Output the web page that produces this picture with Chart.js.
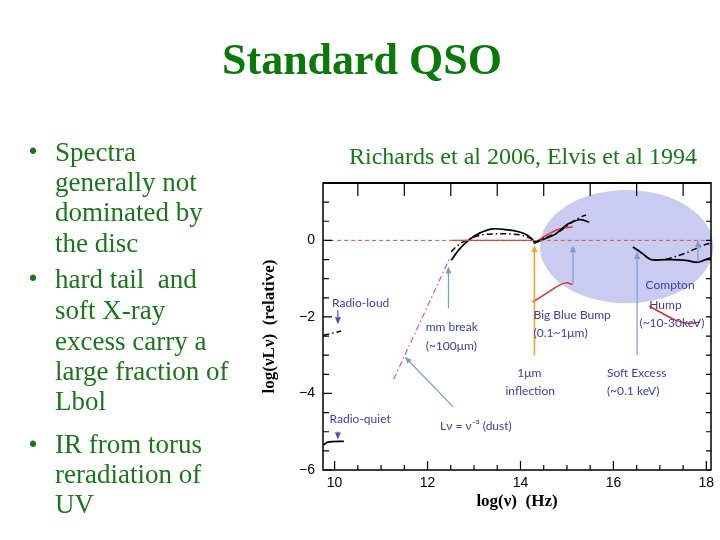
<!DOCTYPE html>
<html><head><meta charset="utf-8">
<script src="https://cdn.jsdelivr.net/npm/chart.js@4.4.0/dist/chart.umd.min.js"></script>
<style>
html,body{margin:0;padding:0;background:#fff;}
#wrap{position:relative;width:720px;height:540px;overflow:hidden;}
canvas{position:absolute;left:0;top:0;}
.t{position:absolute;line-height:0;white-space:nowrap;font-family:"Liberation Serif","Times New Roman",serif;}
.b{font-size:27px;color:#1b761b;left:55px;}
.d{position:absolute;line-height:0;font-family:"Liberation Sans",Arial,sans-serif;font-size:23px;color:#1b761b;left:29px;}
</style></head><body>
<div id="wrap">
<canvas id="c" width="720" height="540"></canvas>
<div class="t" style="left:362px;top:60px;transform:translateX(-50%);font-size:44px;font-weight:bold;color:#0a790a">Standard QSO</div>
<div class="t" style="left:349px;top:156px;font-size:24px;color:#1b761b">Richards et al 2006, Elvis et al 1994</div>
<div class="d" style="top:151px">•</div>
<div class="t b" style="top:152.4px">Spectra</div>
<div class="t b" style="top:182.2px">generally not</div>
<div class="t b" style="top:212.2px">dominated by</div>
<div class="t b" style="top:242.6px">the disc</div>
<div class="d" style="top:278px">•</div>
<div class="t b" style="top:279.2px">hard tail &nbsp;and</div>
<div class="t b" style="top:310.2px">soft X-ray</div>
<div class="t b" style="top:340.7px">excess carry a</div>
<div class="t b" style="top:370.9px">large fraction of</div>
<div class="t b" style="top:401.2px">Lbol</div>
<div class="d" style="top:444px">•</div>
<div class="t b" style="top:444.2px">IR from torus</div>
<div class="t b" style="top:474.2px">reradiation of</div>
<div class="t b" style="top:504.2px">UV</div>
</div>
<script>
// ---- data (log nu, log nuLnu relative) ----
const xTicks = [10, 12, 14, 16, 18];
const yTicks = [-6, -4, -2, 0];
const zeroX = [9.75, 18.1];
const zeroY = [0, 0];
const redFlatX = [12.54, 14.28];
const redFlatY = [0, 0];
const redUVX = [14.28, 14.55, 14.84, 15.12];
const redUVY = [-0.09, 0.13, 0.30, 0.35];
const redLowX = [14.26, 14.55, 14.84, 14.98, 15.12];
const redLowY = [-1.61, -1.39, -1.17, -1.11, -1.15];
const redHumpX = [16.77, 17.06, 17.35, 17.63, 17.85];
const redHumpY = [-1.72, -1.91, -2.09, -2.17, -2.13];
const sedSolidX = [12.51, 12.69, 12.90, 13.12, 13.40, 13.69, 13.98, 14.16, 14.27, 14.31, 14.40, 14.60, 14.76, 15.02, 15.27, 15.48];
const sedSolidY = [-0.52, -0.22, 0.02, 0.19, 0.30, 0.28, 0.22, 0.13, 0.00, -0.06, -0.02, 0.08, 0.17, 0.43, 0.54, 0.48];
const sedDashX = [12.51, 12.65, 12.83, 13.12, 13.40, 13.76, 14.05, 14.27];
const sedDashY = [-0.30, -0.13, 0.00, 0.13, 0.17, 0.17, 0.13, 0.03];
const uvDashX = [14.30, 14.55, 14.80, 15.05, 15.25, 15.41];
const uvDashY = [-0.05, 0.08, 0.20, 0.42, 0.58, 0.67];
const dustX = [11.27, 12.47];
const dustY = [-3.63, -0.48];
const radioLoudX = [9.76, 10.14];
const radioLoudY = [-2.48, -2.37];
const radioQuietX = [9.76, 9.85, 10.2];
const radioQuietY = [-5.35, -5.27, -5.25];
const xraySolidX = [16.42, 16.63, 16.81, 17.13, 17.56, 17.81, 18.03, 18.1];
const xraySolidY = [-0.17, -0.35, -0.50, -0.50, -0.52, -0.57, -0.48, -0.45];
const xrayDashX = [17.13, 17.56, 17.85, 18.03, 18.1];
const xrayDashY = [-0.50, -0.33, -0.17, -0.09, -0.08];

// ---- annotations (data coordinates) ----
const noteText = ['Radio-loud', 'Radio-quiet', 'mm break', '(~100μm)', 'Big Blue Bump', '(0.1~1μm)', '1μm', 'inflection', 'Soft Excess', '(~0.1 keV)', 'Compton', 'Hump', '(~10-30keV)', 'Lν = ν⁻³ (dust)'];
const noteX = [10.56, 10.55, 11.96, 11.96, 14.28, 14.28, 14.19, 14.21, 15.86, 15.86, 17.22, 17.12, 17.26, 12.27];
const noteY = [-1.63, -4.67, -2.26, -2.76, -1.94, -2.43, -3.46, -3.95, -3.46, -3.95, -1.18, -1.68, -2.17, -4.85];
const noteAlign = ['center', 'center', 'left', 'left', 'left', 'left', 'center', 'center', 'left', 'left', 'center', 'center', 'center', 'left'];
const arrowX0 = [12.45, 15.13, 16.51, 17.82, 12.55, 10.07, 10.07, 14.30];
const arrowY0 = [-1.78, -1.13, -3.00, -0.57, -4.35, -1.83, -5.00, -3.00];
const arrowX1 = [12.45, 15.13, 16.51, 17.82, 11.51, 10.07, 10.07, 14.30];
const arrowY1 = [-0.68, -0.13, -0.30, 0.02, -3.04, -2.19, -5.20, -0.13];
const arrowKind = ['light', 'light', 'light', 'light', 'light', 'dark', 'dark', 'orange'];
const bumpCenter = [16.285, -0.164];
const bumpRadius = [1.866, 1.48];

function pts(xs, ys) { return xs.map((x, i) => ({x: x, y: ys[i]})); }
const DD = [6, 3, 1.5, 3];
function ds(xs, ys, color, width, dash) {
  return {data: pts(xs, ys), showLine: true, borderColor: color, borderWidth: width, borderDash: dash || [], pointRadius: 0, fill: false, tension: 0.35};
}

const bumpPlugin = {
  id: 'bump',
  beforeDatasetsDraw(chart) {
    const {ctx, scales: {x, y}} = chart;
    const cx = x.getPixelForValue(bumpCenter[0]), cy = y.getPixelForValue(bumpCenter[1]);
    const rx = x.getPixelForValue(bumpCenter[0] + bumpRadius[0]) - cx;
    const ry = cy - y.getPixelForValue(bumpCenter[1] + bumpRadius[1]);
    ctx.save();
    ctx.fillStyle = '#c9cbf0';
    ctx.beginPath();
    ctx.ellipse(cx, cy, rx, ry, 0, 0, Math.PI * 2);
    ctx.fill();
    ctx.restore();
  }
};

function arrow(ctx, x0, y0, x1, y1, color, w) {
  const a = Math.atan2(y1 - y0, x1 - x0), h = 7;
  ctx.strokeStyle = color; ctx.fillStyle = color; ctx.lineWidth = w;
  ctx.beginPath(); ctx.moveTo(x0, y0); ctx.lineTo(x1 - Math.cos(a) * h * 0.8, y1 - Math.sin(a) * h * 0.8); ctx.stroke();
  ctx.beginPath();
  ctx.moveTo(x1, y1);
  ctx.lineTo(x1 - h * Math.cos(a) + 3 * Math.sin(a), y1 - h * Math.sin(a) - 3 * Math.cos(a));
  ctx.lineTo(x1 - h * Math.cos(a) - 3 * Math.sin(a), y1 - h * Math.sin(a) + 3 * Math.cos(a));
  ctx.closePath(); ctx.fill();
}

const notesPlugin = {
  id: 'notes',
  afterDatasetsDraw(chart) {
    const {ctx, scales: {x, y}, chartArea: ca} = chart;
    ctx.save();
    const colors = {light: '#7f9ad2', dark: '#4a52b0', orange: '#f2a52a'};
    for (let i = 0; i < arrowX0.length; i++) {
      arrow(ctx, x.getPixelForValue(arrowX0[i]), y.getPixelForValue(arrowY0[i]), x.getPixelForValue(arrowX1[i]), y.getPixelForValue(arrowY1[i]), colors[arrowKind[i]], arrowKind[i] === 'orange' ? 1.6 : 1.2);
    }
    ctx.fillStyle = '#3d41a4';
    ctx.font = '12px Lato, "Open Sans", sans-serif';
    ctx.textBaseline = 'middle';
    for (let i = 0; i < noteText.length; i++) {
      ctx.textAlign = noteAlign[i];
      ctx.fillText(noteText[i], x.getPixelForValue(noteX[i]), y.getPixelForValue(noteY[i]));
    }
    // frame and inward ticks
    ctx.strokeStyle = '#000'; ctx.lineWidth = 1.5;
    ctx.strokeRect(ca.left, ca.top, ca.right - ca.left, ca.bottom - ca.top);
    ctx.lineWidth = 2.2;
    ctx.beginPath(); ctx.moveTo(ca.left, ca.top); ctx.lineTo(ca.right, ca.top); ctx.stroke();
    ctx.lineWidth = 1.2;
    ctx.beginPath();
    for (let v = -6; v <= 1.5001; v += 0.5) {
      const py = y.getPixelForValue(v);
      const major = Math.abs(v % 2) < 1e-6;
      ctx.moveTo(ca.left, py); ctx.lineTo(ca.left + (major ? 9 : 6), py);
      ctx.moveTo(ca.right, py); ctx.lineTo(ca.right - 5, py);
    }
    for (let v = 10; v <= 18.0001; v += 0.5) {
      const px = x.getPixelForValue(v);
      const major = Math.abs(v % 2) < 1e-6;
      ctx.moveTo(px, ca.bottom); ctx.lineTo(px, ca.bottom - (major ? 9 : 5));
    }
    for (let v = 10.5; v <= 17.5001; v += 1) {
      const px = x.getPixelForValue(v);
      ctx.moveTo(px, ca.top); ctx.lineTo(px, ca.top + 13);
    }
    ctx.stroke();
    ctx.restore();
  }
};

new Chart(document.getElementById('c'), {
  type: 'scatter',
  data: {
    datasets: [
      ds(zeroX, zeroY, '#d9534a', 1, [4, 3]),
      ds(redFlatX, redFlatY, '#d93a2a', 1.3),
      ds(dustX, dustY, '#d24fd0', 1.2, DD),
      ds(radioLoudX, radioLoudY, '#000', 1.5, DD),
      ds(radioQuietX, radioQuietY, '#000', 1.8),
      ds(sedDashX, sedDashY, '#000', 1.5, DD),
      ds(sedSolidX, sedSolidY, '#000', 1.7),
      ds(uvDashX, uvDashY, '#000', 1.4, DD),
      ds(redUVX, redUVY, '#e0302a', 1.5),
      ds(redLowX, redLowY, '#e0302a', 1.5),
      ds(redHumpX, redHumpY, '#e0302a', 1.5),
      ds(xraySolidX, xraySolidY, '#000', 1.8),
      ds(xrayDashX, xrayDashY, '#000', 1.5, DD)
    ]
  },
  options: {
    responsive: false, animation: false, devicePixelRatio: 1,
    layout: {padding: {left: 250, right: 9, top: 183, bottom: 0}},
    plugins: {legend: {display: false}, tooltip: {enabled: false}},
    scales: {
      x: {
        type: 'linear', min: 9.75, max: 18.1,
        afterBuildTicks: s => { s.ticks = xTicks.map(v => ({value: v})); },
        afterFit: s => { s.height = 70; },
        grid: {display: false, drawTicks: false},
        border: {display: false},
        ticks: {padding: 5, color: '#000', font: {family: 'Liberation Sans', size: 14}, callback: v => String(v)},
        title: {display: true, text: 'log(ν)  (Hz)', color: '#000', font: {family: 'Liberation Serif', size: 17, weight: 'bold'}, padding: {top: 0, bottom: 28}}
      },
      y: {
        type: 'linear', min: -6, max: 1.5,
        afterBuildTicks: s => { s.ticks = yTicks.map(v => ({value: v})); },
        afterFit: s => { s.width = 73; },
        grid: {display: false, drawTicks: false},
        border: {display: false},
        ticks: {padding: 8, color: '#000', font: {family: 'Liberation Sans', size: 14}, callback: v => v === 0 ? '0' : '\u2212' + Math.abs(v)},
        title: {display: true, text: 'log(νLν)  (relative)', color: '#000', font: {family: 'Liberation Serif', size: 17, weight: 'bold'}, padding: {top: 9, bottom: 0}}
      }
    }
  },
  plugins: [bumpPlugin, notesPlugin]
});
</script>
</body></html>
